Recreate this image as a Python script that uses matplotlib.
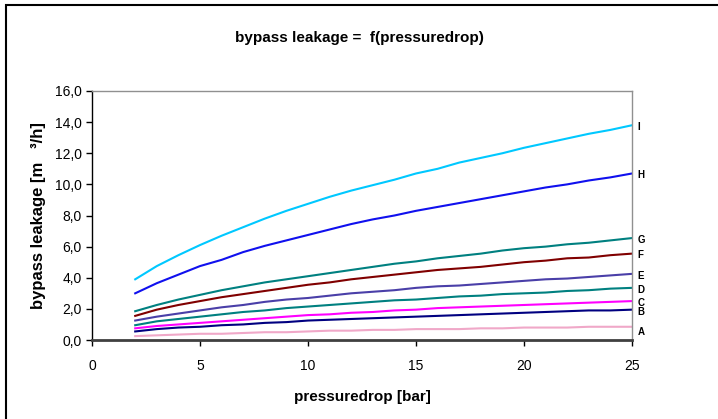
import matplotlib.pyplot as plt
from matplotlib.patches import Rectangle

plt.rcParams['font.family'] = ['Liberation Sans', 'DejaVu Sans']

p = list(range(2, 26))  # pressuredrop [bar]

A = [0.25, 0.3, 0.35, 0.4, 0.4, 0.45, 0.5, 0.5, 0.55, 0.6, 0.6, 0.65, 0.65, 0.7, 0.7, 0.7, 0.75, 0.75, 0.8, 0.8, 0.8, 0.85, 0.85, 0.85]
B = [0.55, 0.7, 0.8, 0.85, 0.95, 1.0, 1.1, 1.15, 1.25, 1.3, 1.35, 1.4, 1.45, 1.5, 1.55, 1.6, 1.65, 1.7, 1.75, 1.8, 1.85, 1.9, 1.9, 1.95]
C = [0.75, 0.9, 1.0, 1.1, 1.2, 1.3, 1.4, 1.5, 1.6, 1.65, 1.75, 1.8, 1.9, 1.95, 2.05, 2.1, 2.15, 2.2, 2.25, 2.3, 2.35, 2.4, 2.45, 2.5]
D = [0.95, 1.2, 1.35, 1.5, 1.65, 1.8, 1.9, 2.05, 2.15, 2.25, 2.35, 2.45, 2.55, 2.6, 2.7, 2.8, 2.85, 2.95, 3.0, 3.05, 3.15, 3.2, 3.3, 3.35]
E = [1.25, 1.5, 1.7, 1.9, 2.1, 2.25, 2.45, 2.6, 2.7, 2.85, 3.0, 3.1, 3.2, 3.35, 3.45, 3.5, 3.6, 3.7, 3.8, 3.9, 3.95, 4.05, 4.15, 4.25]
F = [1.55, 1.95, 2.25, 2.5, 2.75, 2.95, 3.15, 3.35, 3.55, 3.7, 3.9, 4.05, 4.2, 4.35, 4.5, 4.6, 4.7, 4.85, 5.0, 5.1, 5.25, 5.3, 5.45, 5.55]
G = [1.85, 2.25, 2.6, 2.9, 3.2, 3.45, 3.7, 3.9, 4.1, 4.3, 4.5, 4.7, 4.9, 5.05, 5.25, 5.4, 5.55, 5.75, 5.9, 6.0, 6.15, 6.25, 6.4, 6.55]
H = [3.0, 3.65, 4.2, 4.75, 5.15, 5.65, 6.05, 6.4, 6.75, 7.1, 7.45, 7.75, 8.0, 8.3, 8.55, 8.8, 9.05, 9.3, 9.55, 9.8, 10.0, 10.25, 10.45, 10.7]
I = [3.9, 4.75, 5.45, 6.1, 6.7, 7.25, 7.8, 8.3, 8.75, 9.2, 9.6, 9.95, 10.3, 10.7, 11.0, 11.4, 11.7, 12.0, 12.35, 12.65, 12.95, 13.25, 13.5, 13.8]

names = ['A', 'B', 'C', 'D', 'E', 'F', 'G', 'H', 'I']
series = [A, B, C, D, E, F, G, H, I]
colors = ['#f0a8c8', '#000080', '#ff00ff', '#008080', '#4a3fa8',
          '#800000', '#008080', '#1010ee', '#00c8ff']

fig = plt.figure(figsize=(7.18, 4.19), dpi=100)
fig.patches.append(Rectangle((6/718, -0.1), 1.2, (419-5)/419 + 0.1,
                             transform=fig.transFigure, fill=False,
                             edgecolor='black', linewidth=1.5))
ax = fig.add_axes([92/718, 1-340/419, (632-92)/718, (340-91)/419])

for n, s, c in zip(names, series, colors):
    ax.plot(p, s, color=c, linewidth=1.5)
    dy = -0.35 if n == 'A' else -0.12
    ax.annotate(n, (p[-1], s[-1] + dy), xytext=(4, 0), textcoords='offset points',
                ha='left', va='center', fontsize=7, fontweight='bold',
                annotation_clip=False)

ax.set_xlim(0, 25)
ax.set_ylim(0, 16)
ax.set_xticks(range(0, 26, 5))
ax.set_yticks(range(0, 17, 2))
ax.set_yticklabels(['%d,0' % v for v in range(0, 17, 2)])
ax.tick_params(direction='out', length=4, labelsize=10, width=1)
ax.tick_params(axis='x', pad=10)
for side in ['top', 'right']:
    ax.spines[side].set_color('#909090')
    ax.spines[side].set_linewidth(1)
ax.spines['left'].set_linewidth(1)
ax.spines['bottom'].set_linewidth(2)
ax.spines['bottom'].set_color('#404040')

ax.set_xlabel('pressuredrop [bar]', fontsize=11, fontweight='bold', labelpad=12)
ax.set_ylabel('bypass leakage [m   ³/h]', fontsize=12, fontweight='bold', labelpad=6)
fig.text(0.5, 1-38/419, 'bypass leakage =  f(pressuredrop)', ha='center', va='center',
         fontsize=11, fontweight='bold')

fig.savefig('out.png', dpi=100)
